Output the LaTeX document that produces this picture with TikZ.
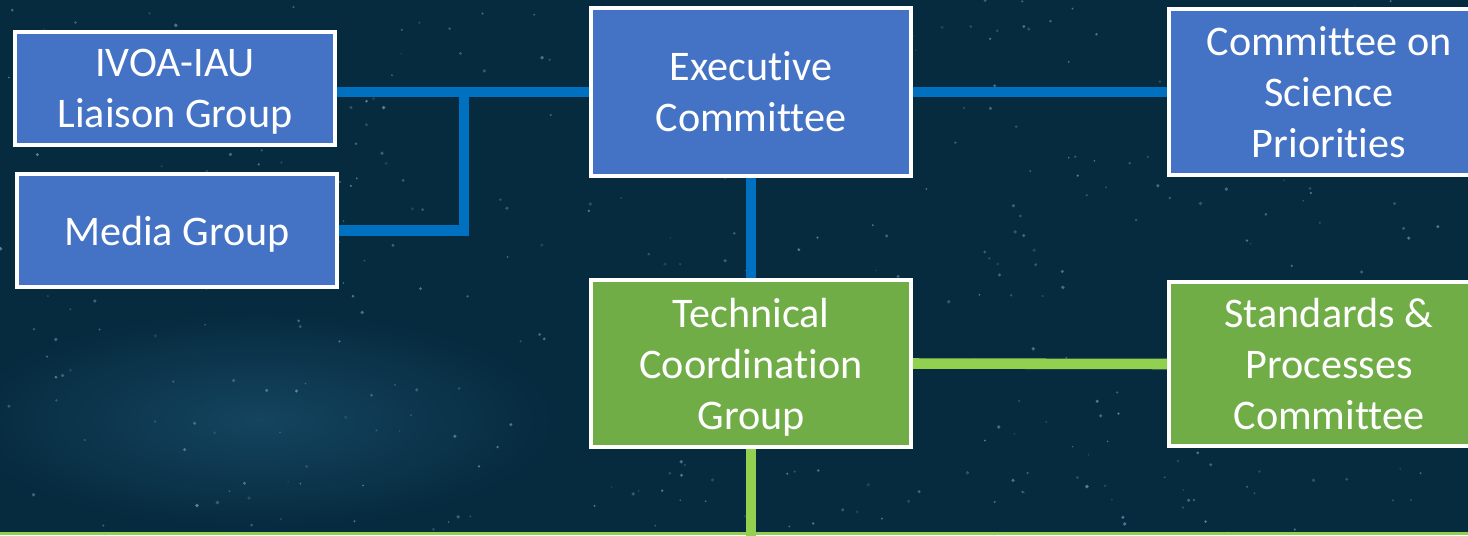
\documentclass[tikz,border=0pt]{standalone}
\usepackage{fontspec}
\setmainfont{Carlito}[Ligatures=NoCommon]
\usetikzlibrary{positioning,calc}
\definecolor{bgcolor}{RGB}{6,42,62}
\definecolor{nebcolor}{RGB}{20,68,95}
\definecolor{starcolor}{RGB}{140,185,210}
\definecolor{orgblue}{RGB}{68,114,196}
\definecolor{orggreen}{RGB}{112,173,71}
\definecolor{linkblue}{RGB}{0,112,192}
\definecolor{linkgreen}{RGB}{146,208,80}
\newcommand{\nodesc}[1]{\raisebox{0pt}[\height][0pt]{#1}}
\tikzset{
  orgbox/.style={draw=white, line width=2.3pt, text=white, align=center,
    minimum width=6.4cm, inner sep=0pt, font=\fontsize{24}{29}\selectfont},
  bluebox/.style={orgbox, fill=orgblue},
  greenbox/.style={orgbox, fill=orggreen},
  bluelink/.style={linkblue, line width=6pt, line join=miter},
  greenlink/.style={linkgreen, line width=6pt},
}

\begin{document}
\begin{tikzpicture}[x=0.02cm, y=-0.02cm]
    \useasboundingbox (0,0) rectangle (1468,535);
    \clip (0,0) rectangle (1468,535);
    % sky
    \fill[bgcolor] (0,0) rectangle (1468,535);
    \shade[inner color=nebcolor, outer color=bgcolor] (260,420) ellipse (300 and 110);
    \pgfmathsetseed{17}
    \foreach \i in {1,...,420} {
      \pgfmathsetmacro{\sx}{rnd*1468}
      \pgfmathsetmacro{\sy}{rnd*535}
      \pgfmathsetmacro{\so}{0.15+rnd*0.45}
      \fill[starcolor, opacity=\so] (\sx,\sy) circle (0.5pt+rnd*0.6pt);
    }

    % boxes
    \node[bluebox, minimum height=2.26cm] (ivoa) at (175,88.5) {IVOA-IAU\\\nodesc{Liaison Group}};
    \node[bluebox, minimum height=2.26cm] (media) at (177,230.5) {\nodesc{Media Group}};
    \node[bluebox, minimum height=3.36cm] (exec) at (751,92) {Executive\\Committee};
    \node[bluebox, minimum height=3.32cm] (csp) at (1329,92) {Committee on\\Science\\Priorities};
    \node[greenbox, minimum height=3.34cm] (tcg) at (751,363.5) {Technical\\Coordination\\\nodesc{Group}};
    \node[greenbox, minimum height=3.28cm] (spc) at (1329,364) {Standards \&\\Processes\\Committee};

    \coordinate (jn) at (464,92);
    \coordinate (tcgdown) at (751,540);
    \coordinate (bl) at (0,533.5);
    \coordinate (br) at (1468,533.5);

    % links
    \draw[bluelink] (exec.west) -- (exec.west -| ivoa.east);
    \draw[bluelink] (media.east) -| (jn);
    \draw[bluelink] (exec.east) -- (csp.west);
    \draw[bluelink] (exec.south) -- (tcg.north);
    \draw[greenlink] (tcg.east) -- (spc.west);
    \draw[greenlink] (tcg.south) -- (tcgdown);
    \draw[linkgreen, line width=1.4pt] (bl) -- (br);
\end{tikzpicture}
\end{document}
